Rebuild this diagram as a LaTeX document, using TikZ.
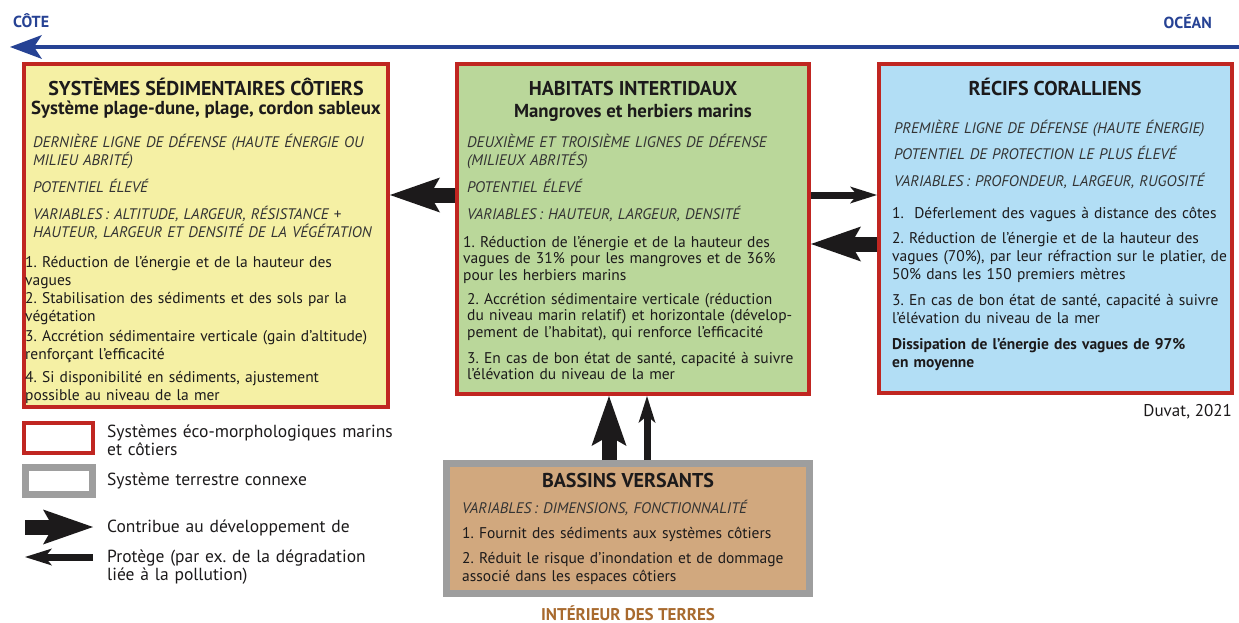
\documentclass[tikz,border=0pt]{standalone}
\usepackage[RGB]{xcolor}
\usepackage{fontspec}
\setmainfont{PT Sans}
\usetikzlibrary{arrows.meta}
\definecolor{sedi}{RGB}{245,240,164}
\definecolor{inter}{RGB}{186,215,154}
\definecolor{recif}{RGB}{178,222,245}
\definecolor{bassin}{RGB}{209,168,126}
\definecolor{ecoborder}{RGB}{192,38,33}
\definecolor{terreborder}{RGB}{158,158,158}
\definecolor{cote}{RGB}{38,66,148}
\definecolor{terre}{RGB}{168,106,46}
\definecolor{ink}{RGB}{28,26,27}
\definecolor{italink}{RGB}{52,52,52}
\newcommand{\bodyfont}{\fontsize{15.5}{18}\selectfont\frenchspacing}
\newcommand{\varfont}{\fontsize{15.3}{18}\selectfont\itshape\frenchspacing}
\tikzset{
  ecobox/.style={draw=ecoborder, line width=4pt, outer sep=2pt, inner sep=0pt, anchor=north west},
  terrebox/.style={draw=terreborder, line width=7pt, outer sep=3.5pt, inner sep=0pt, anchor=north west},
  boxtitle/.style={anchor=base, inner sep=0pt, text=ink, font=\fontsize{20}{22}\selectfont\bfseries},
  boxsub/.style={anchor=base, inner sep=0pt, text=ink, font=\fontsize{18.8}{21}\selectfont\bfseries},
  boxtext/.style={anchor=base west, inner sep=0pt, text=ink, font=\bodyfont, align=left, text width=380pt},
  vartext/.style={boxtext, text=italink, font=\varfont},
  legtext/.style={anchor=base west, inner sep=0pt, text=ink, font=\fontsize{17.5}{18}\selectfont\frenchspacing, align=left, text width=330pt},
  develop/.style={draw=ink, line width=15pt, -{Stealth[length=50pt, width=35pt, inset=10pt, line width=0pt]}},
  protege/.style={draw=ink, line width=7pt, -{Stealth[length=27pt, width=17pt, inset=7pt, line width=0pt]}},
  coteline/.style={draw=cote, line width=4pt, -{Stealth[length=32pt, width=24pt, inset=8pt, line width=0pt]}},
  bandeau/.style={inner sep=0pt, text=cote, font=\fontsize{16}{18}\selectfont\bfseries}
}

\begin{document}
\begin{tikzpicture}[x=1pt,y=-1pt]
\useasboundingbox (0,0) rectangle (1239,623);
\coordinate (ocean) at (1239,47);
\coordinate (cote) at (10,47);
\draw[coteline] (ocean) -- (cote);
\node[bandeau, anchor=base west] (cotelbl) at (13,28) {CÔTE};
\node[bandeau, anchor=base east] (oceanlbl) at (1212,29) {OCÉAN};

\node[ecobox, fill=sedi, minimum width=364pt, minimum height=343pt] (cotier) at (22,62) {};
\node[ecobox, fill=inter, minimum width=352pt, minimum height=330pt] (intertidal) at (455,62) {};
\node[ecobox, fill=recif, minimum width=353pt, minimum height=329pt] (recifs) at (877,62) {};
\node[terrebox, fill=bassin, minimum width=363pt, minimum height=130pt] (bassins) at (443,460) {};

\node[boxtitle] (cotiertitle) at (206,96) {SYSTÈMES SÉDIMENTAIRES CÔTIERS};
\node[boxsub] (cotiersub) at (206,115) {Système plage-dune, plage, cordon sableux};
\node[vartext] (cotiervar) at (33,147) {DERNIÈRE LIGNE DE DÉFENSE (HAUTE ÉNERGIE OU\\MILIEU ABRITÉ)\\[9pt]
  POTENTIEL ÉLEVÉ\\[9pt]VARIABLES\,: ALTITUDE, LARGEUR, RÉSISTANCE +\\HAUTEUR, LARGEUR ET DENSITÉ DE LA VÉGÉTATION};
\node[boxtext] (cotierlist) at (25,267) {1. Réduction de l’énergie et de la hauteur des\\vagues\\
  2. Stabilisation des sédiments et des sols par la\\végétation\\[2pt]
  3. Accrétion sédimentaire verticale (gain d’altitude)\\renforçant l’efficacité\\[5pt]
  4. Si disponibilité en sédiments, ajustement\\possible au niveau de la mer};

\node[boxtitle] (intertitle) at (633,96) {HABITATS INTERTIDAUX};
\node[boxsub] (intersub) at (633,118) {Mangroves et herbiers marins};
\node[vartext] (intervar) at (467,147) {DEUXIÈME ET TROISIÈME LIGNES DE DÉFENSE\\(MILIEUX ABRITÉS)\\[9pt]
  POTENTIEL ÉLEVÉ\\[9pt]VARIABLES\,: HAUTEUR, LARGEUR, DENSITÉ};
\node[boxtext, font=\fontsize{15.5}{16.5}\selectfont\frenchspacing] (interlist) at (463,247) {1. Réduction de l’énergie et de la hauteur des\\vagues de 31\% pour les mangroves et de 36\%\\pour les herbiers marins\\[7.5pt]
  \hspace*{4pt}2. Accrétion sédimentaire verticale (réduction\\\hspace*{4pt}du niveau marin relatif) et horizontale (dévelop-\\\hspace*{4pt}pement de l’habitat), qui renforce l’efficacité\\[9.5pt]
  \hspace*{4pt}3. En cas de bon état de santé, capacité à suivre\\\hspace*{4pt}l’élévation du niveau de la mer};

\node[boxtitle] (recifstitle) at (1055,96) {RÉCIFS CORALLIENS};
\node[vartext] (recifsvar) at (894,133) {PREMIÈRE LIGNE DE DÉFENSE (HAUTE ÉNERGIE)\\[9pt]
  POTENTIEL DE PROTECTION LE PLUS ÉLEVÉ\\[9pt]VARIABLES\,: PROFONDEUR, LARGEUR, RUGOSITÉ};
\node[boxtext] (recifslist) at (892,218) {1.\ \ Déferlement des vagues à distance des côtes\\[7pt]
  2. Réduction de l’énergie et de la hauteur des\\vagues (70\%), par leur réfraction sur le platier, de\\50\% dans les 150 premiers mètres\\[8pt]
  3. En cas de bon état de santé, capacité à suivre\\l’élévation du niveau de la mer\\[8pt]
  \textbf{Dissipation de l’énergie des vagues de 97\%}\\\textbf{en moyenne}};

\node[boxtitle] (bassinstitle) at (628,487) {BASSINS VERSANTS};
\node[vartext] (bassinsvar) at (462,513) {VARIABLES\,: DIMENSIONS, FONCTIONNALITÉ};
\node[boxtext] (bassinslist) at (462,538) {1. Fournit des sédiments aux systèmes côtiers\\[7pt]
  2. Réduit le risque d’inondation et de dommage\\associé dans les espaces côtiers};
\node[bandeau, anchor=base, text=terre, font=\fontsize{17}{19}\selectfont\bfseries] (interieur) at (628,620) {INTÉRIEUR DES TERRES};
\node[anchor=base east, inner sep=0pt, text=ink, font=\fontsize{17}{19}\selectfont] (source) at (1232,416) {Duvat, 2021};

\coordinate (rowa) at (0,195);
\coordinate (rowb) at (0,244);
\coordinate (cola) at (609,0);
\coordinate (colb) at (647,0);
\draw[develop] (intertidal.west |- rowa) -- (cotier.east |- rowa);
\draw[protege] (intertidal.east |- rowa) -- (recifs.west |- rowa);
\draw[develop] (recifs.west |- rowb) -- (intertidal.east |- rowb);
\draw[develop] (bassins.north -| cola) -- (intertidal.south -| cola);
\draw[protege] (bassins.north -| colb) -- (intertidal.south -| colb);

\node[ecobox, fill=white, minimum width=69pt, minimum height=30pt] (legeco) at (22,421) {};
\node[terrebox, fill=white, minimum width=67pt, minimum height=27pt] (legterre) at (22,464) {};
\node[legtext] (legecotxt) at (107,437) {Systèmes éco-morphologiques marins\\et côtiers};
\node[legtext] (legterretxt) at (107,485) {Système terrestre connexe};
\coordinate (legdevA) at (25,527);
\coordinate (legdevB) at (93,527);
\coordinate (legproA) at (93,557);
\coordinate (legproB) at (25,557);
\draw[develop] (legdevA) -- (legdevB);
\draw[protege] (legproA) -- (legproB);
\node[legtext] (legdevtxt) at (107,532) {Contribue au développement de};
\node[legtext] (legprotxt) at (107,562) {Protège (par ex. de la dégradation\\liée à la pollution)};
\end{tikzpicture}
\end{document}
